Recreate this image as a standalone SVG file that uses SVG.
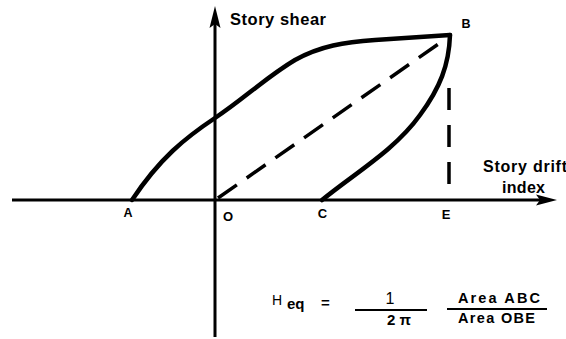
<svg xmlns="http://www.w3.org/2000/svg" width="566" height="339" viewBox="0 0 566 339">
<style>
.ax{stroke:#000;stroke-width:3;fill:none}
.cv{stroke:#000;stroke-width:4.5;fill:none;stroke-linecap:round;stroke-linejoin:round}
.ds{stroke:#000;stroke-width:3.5;fill:none}
.fl{stroke:#000;stroke-width:2;fill:none}
.lb{font-family:"Liberation Sans",Arial,sans-serif;font-weight:bold;fill:#000}
.fm{font-family:"Liberation Sans",Arial,sans-serif;fill:#000}
</style>
<rect width="566" height="339" fill="#fff"/>
<g id="axes">
<line class="ax" x1="12" y1="200" x2="545" y2="200"/>
<polygon points="557,200 536,194.5 540,200 536,205.5" fill="#000"/>
<line class="ax" x1="215" y1="20" x2="215" y2="337"/>
<polygon points="215,6 209.5,28 215,24 220.5,28" fill="#000"/>
</g>
<g id="connectors">
<path class="cv" d="M132,200 C160,158 185,138 215,118 C245,98 265,78 295,60 C320,46 345,42 375,40 L450,35"/>
<path class="cv" d="M322,200 C355,173 395,150 420,115 C440,88 449,65 450,35"/>
<line class="ds" x1="218" y1="198" x2="447" y2="38" stroke-dasharray="23 12"/>
<line class="ds" x1="449" y1="88" x2="449" y2="200" stroke-dasharray="22 15"/>
</g>
<g id="labels">
<text class="lb" x="230" y="25" font-size="16.5" textLength="96">Story shear</text>
<text class="lb" x="483" y="172" font-size="16" textLength="84">Story drift</text>
<text class="lb" x="502" y="193" font-size="16" textLength="43">index</text>
<text class="lb" x="128" y="217" font-size="12.5" text-anchor="middle">A</text>
<text class="lb" x="228" y="221" font-size="13" text-anchor="middle">O</text>
<text class="lb" x="322.5" y="218" font-size="13" text-anchor="middle">C</text>
<text class="lb" x="446" y="219" font-size="13" text-anchor="middle">E</text>
<text class="lb" x="466" y="28" font-size="12.5" text-anchor="middle">B</text>
</g>
<g id="formula">
<text class="fm" x="272" y="305" font-size="14">H</text>
<text class="fm" x="287" y="309" font-size="15" font-weight="bold">eq</text>
<text class="fm" x="321" y="308" font-size="15" font-weight="bold">=</text>
<line class="fl" x1="355" y1="310" x2="427" y2="310"/>
<text class="fm" x="390" y="304" font-size="16" text-anchor="middle">1</text>
<text class="fm" x="387" y="325" font-size="15" font-weight="bold">2 π</text>
<line class="fl" x1="447" y1="309" x2="547" y2="309"/>
<text class="fm" x="458" y="303" font-size="14.5" font-weight="bold" textLength="82">Area  ABC</text>
<text class="fm" x="458" y="323" font-size="14.5" font-weight="bold" textLength="77">Area OBE</text>
</g>
</svg>
